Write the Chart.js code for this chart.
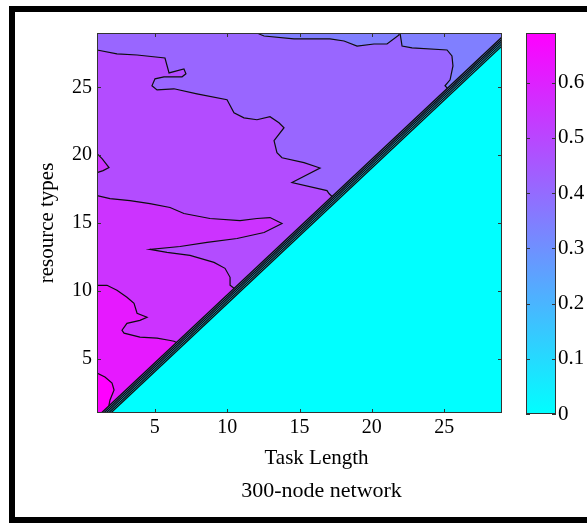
<!DOCTYPE html>
<html>
<head>
<meta charset="utf-8">
<script src="https://cdn.jsdelivr.net/npm/chart.js@4.4.1/dist/chart.umd.min.js"></script>
<style>
  html, body { margin: 0; padding: 0; background: #fff; overflow: hidden; }
  #frame { position: absolute; left: 9px; top: 6px; width: 578px; height: 517px; box-sizing: border-box; border: 6px solid #000; border-right: none; }
  #main { position: absolute; left: 0; top: 0; }
  #cbar { position: absolute; left: 500px; top: 0; }
</style>
</head>
<body>
<div id="frame"></div>
<canvas id="main" width="520" height="523"></canvas>
<canvas id="cbar" width="87" height="523"></canvas>
<script>
const FONT = "'Liberation Serif', 'Times New Roman', serif";

const xTicks = [5, 10, 15, 20, 25];
const yTicks = [5, 10, 15, 20, 25];
const cbarTicks = [0, 0.1, 0.2, 0.3, 0.4, 0.5, 0.6];
const cbarMax = 0.69;
const xLabel = "Task Length";
const yLabel = "resource types";
const caption = "300-node network";

// filled-contour colours, level 0 (cyan) .. level 10 (magenta), "cool" map
const levelColors = [
  "rgb(0,255,255)", "rgb(25,230,255)", "rgb(51,204,255)", "rgb(76,179,255)",
  "rgb(102,153,255)", "rgb(128,127,255)", "rgb(153,102,255)", "rgb(179,76,255)",
  "rgb(204,51,255)", "rgb(230,25,255)", "rgb(255,0,255)"
];

// contour lines, [task length, resource types]
const lineTopA = [[12.2, 29], [12.2, 28.93], [12.55, 28.78], [14.62, 28.56], [17.11, 28.56],
  [18.08, 28.41], [18.98, 28.04], [20.15, 28.19], [21.05, 28.19], [21.88, 28.85], [21.88, 29]];
const lineAB = [[21.95, 29], [22.09, 28.04], [22.78, 27.9], [25.2, 27.75], [25.54, 27.31],
  [25.61, 26.57], [25.41, 25.55], [25.06, 25.11], [25.3, 24.85]];
const lineBC = [[1, 27.75], [2.38, 27.46], [3.77, 27.38], [5.7, 27.16], [5.98, 26.06], [7.01, 26.35],
  [7.15, 25.99], [6.88, 25.77], [5.63, 25.77], [5.01, 25.62], [4.8, 25.11], [5.15, 24.81],
  [6.32, 24.89], [7.91, 24.52], [9.99, 24.08], [10.47, 23.12], [11.16, 22.75], [12.06, 22.61],
  [12.96, 22.83], [13.58, 22.39], [13.93, 22.02], [13.24, 21.06], [13.44, 20.18], [13.79, 19.81],
  [15.31, 19.45], [16.42, 19.05], [14.48, 17.98], [16.9, 17.39], [17.04, 17.17], [17.3, 16.9]];
const islandD = [[1, 20.11], [1.35, 19.74], [1.83, 19.08], [1.42, 18.86], [1, 18.71]];
const lineCD = [[1, 17.02], [1.9, 16.8], [3.28, 16.65], [4.66, 16.43], [6.05, 16.14], [7.01, 15.7],
  [8.81, 15.33], [10.89, 15.18], [12.06, 15.33], [12.96, 15.4], [13.79, 14.96], [12.55, 14.3],
  [10.68, 13.86], [8.61, 13.57], [6.74, 13.27], [4.66, 13.05], [5.84, 12.83], [7.43, 12.61],
  [9.09, 12.1], [9.85, 11.66], [10.2, 11.0], [10.2, 10.41], [10.47, 10.19], [10.8, 10.0]];
const lineDE = [[1, 10.41], [1.69, 10.41], [2.38, 10.04], [3.07, 9.53], [3.56, 9.08], [3.77, 8.35],
  [4.46, 8.06], [3.97, 7.83], [3.07, 7.61], [2.73, 7.1], [2.87, 6.88], [3.97, 6.59], [5.15, 6.51],
  [5.98, 6.36], [6.32, 6.29], [6.7, 6.1]];
const lineEF = [[1, 3.94], [1.55, 3.65], [2.04, 3.2], [2.18, 2.69], [1.9, 1.96], [1.83, 1.59], [1.95, 1.3]];

// steep band along the diagonal: offsets below y = x of its contour lines
const bandOffsets = [0.3, 0.46, 0.62, 0.79, 0.95];

const pts = (arr) => arr.map(([x, y]) => ({ x, y }));
const layers = [];
function fillLayer(poly, color) {
  layers.push({ data: pts(poly), fill: "shape", backgroundColor: color, borderColor: "transparent",
    borderWidth: 0, pointRadius: 0 });
}
function lineLayer(line, width) {
  layers.push({ data: pts(line), fill: false, borderColor: "#0d0d0d", borderWidth: width, pointRadius: 0 });
}

// painter's order: lowest purple level first, higher levels on top
fillLayer([[1, 1], [1, 29], [29, 29], [29, 1]], levelColors[5]);
fillLayer([[1, 29], ...lineAB, [29, 1], [1, 1]], levelColors[6]);
fillLayer(lineTopA, levelColors[5]);
fillLayer([...lineBC, [18, 15], [3, 1], [1, 1]], levelColors[7]);
fillLayer(islandD, levelColors[8]);
fillLayer([...lineCD, [3, 1], [1, 1]], levelColors[8]);
fillLayer([...lineDE, [3, 1], [1, 1]], levelColors[9]);
fillLayer([...lineEF, [2.2, 1], [1, 1]], levelColors[10]);
[lineTopA, lineAB, lineBC, islandD, lineCD, lineDE, lineEF].forEach((l) => lineLayer(l, 1.2));

for (let i = 0; i < bandOffsets.length - 1; i++) {
  const a = bandOffsets[i], b = bandOffsets[i + 1];
  fillLayer([[1 + a, 1], [29, 29 - a], [29, 29 - b], [1 + b, 1]], levelColors[4 - i]);
}
const last = bandOffsets[bandOffsets.length - 1];
fillLayer([[1 + last, 1], [29, 29 - last], [29, 1]], levelColors[0]);
bandOffsets.forEach((c) => lineLayer([[1 + c, 1], [29, 29 - c]], 1.3));

layers.forEach((d, i) => { d.order = layers.length - i; });

const axesBox = {
  id: "axesBox",
  afterDatasetsDraw(chart) {
    const { ctx, chartArea: a, scales: { x, y } } = chart;
    ctx.save();
    ctx.strokeStyle = "#333";
    ctx.lineWidth = 1;
    ctx.strokeRect(a.left + 0.5, a.top + 0.5, a.width - 1, a.height - 1);
    ctx.beginPath();
    xTicks.forEach((v) => {
      const p = Math.round(x.getPixelForValue(v)) + 0.5;
      ctx.moveTo(p, a.bottom); ctx.lineTo(p, a.bottom - 4);
      ctx.moveTo(p, a.top); ctx.lineTo(p, a.top + 4);
    });
    yTicks.forEach((v) => {
      const p = Math.round(y.getPixelForValue(v)) + 0.5;
      ctx.moveTo(a.left, p); ctx.lineTo(a.left + 4, p);
      ctx.moveTo(a.right, p); ctx.lineTo(a.right - 4, p);
    });
    ctx.stroke();
    ctx.restore();
  }
};

// x label and caption sit a little right of the axes centre in the original
const captions = {
  id: "captions",
  afterDraw(chart) {
    const { ctx, chartArea: a } = chart;
    const mid = (a.left + a.right) / 2;
    ctx.save();
    ctx.fillStyle = "#000";
    ctx.textAlign = "center";
    ctx.textBaseline = "middle";
    ctx.font = "21px " + FONT;
    ctx.fillText(xLabel, mid + 17, 458);
    ctx.font = "22px " + FONT;
    ctx.fillText(caption, mid + 22, 491);
    ctx.restore();
  }
};

const tickFont = { family: FONT, size: 20 };

new Chart(document.getElementById("main"), {
  type: "line",
  data: { datasets: layers },
  options: {
    responsive: false,
    animation: false,
    events: [],
    layout: { padding: { top: 33, right: 18, left: 0, bottom: 0 } },
    elements: { line: { tension: 0 } },
    plugins: { legend: { display: false }, tooltip: { enabled: false } },
    scales: {
      x: {
        type: "linear", min: 1, max: 29,
        afterBuildTicks: (s) => { s.ticks = xTicks.map((v) => ({ value: v })); },
        afterFit: (s) => { s.height = 110; },
        grid: { display: false, drawTicks: false }, border: { display: false },
        ticks: { color: "#000", font: tickFont, padding: 3, maxRotation: 0 }
      },
      y: {
        type: "linear", min: 1, max: 29,
        afterBuildTicks: (s) => { s.ticks = yTicks.map((v) => ({ value: v })); },
        afterFit: (s) => { s.width = 97; },
        grid: { display: false, drawTicks: false }, border: { display: false },
        ticks: { color: "#000", font: tickFont, padding: 5 },
        title: { display: true, text: yLabel, color: "#000", font: { family: FONT, size: 21 }, padding: { top: 35, bottom: 0 } }
      }
    }
  },
  plugins: [axesBox, captions]
});

const cbarBox = {
  id: "cbarBox",
  afterDatasetsDraw(chart) {
    const { ctx, chartArea: a, scales: { y } } = chart;
    ctx.save();
    ctx.strokeStyle = "#333";
    ctx.lineWidth = 1;
    ctx.strokeRect(a.left + 0.5, a.top + 0.5, a.width - 1, a.height - 1);
    ctx.beginPath();
    cbarTicks.forEach((v) => {
      const p = Math.round(y.getPixelForValue(v)) + 0.5;
      ctx.moveTo(a.left, p); ctx.lineTo(a.left + 4, p);
      ctx.moveTo(a.right, p); ctx.lineTo(a.right - 4, p);
    });
    ctx.stroke();
    ctx.restore();
  }
};

function coolGradient(c) {
  const a = c.chart.chartArea;
  if (!a) return levelColors[5];
  const g = c.chart.ctx.createLinearGradient(0, a.bottom, 0, a.top);
  g.addColorStop(0, levelColors[0]);
  g.addColorStop(1, levelColors[10]);
  return g;
}

new Chart(document.getElementById("cbar"), {
  type: "bar",
  data: {
    labels: [""],
    datasets: [{ data: [cbarMax], backgroundColor: coolGradient, borderWidth: 0, barPercentage: 1, categoryPercentage: 1 }]
  },
  options: {
    responsive: false,
    animation: false,
    events: [],
    layout: { padding: { left: 26, top: 33, bottom: 109, right: 0 } },
    plugins: { legend: { display: false }, tooltip: { enabled: false } },
    scales: {
      x: { display: false },
      y: {
        position: "right", min: 0, max: cbarMax,
        afterBuildTicks: (s) => { s.ticks = cbarTicks.map((v) => ({ value: v })); },
        afterFit: (s) => { s.width = 31; },
        grid: { display: false, drawTicks: false }, border: { display: false },
        ticks: { color: "#000", font: { family: FONT, size: 21 }, padding: 2 }
      }
    }
  },
  plugins: [cbarBox]
});
</script>
</body>
</html>
